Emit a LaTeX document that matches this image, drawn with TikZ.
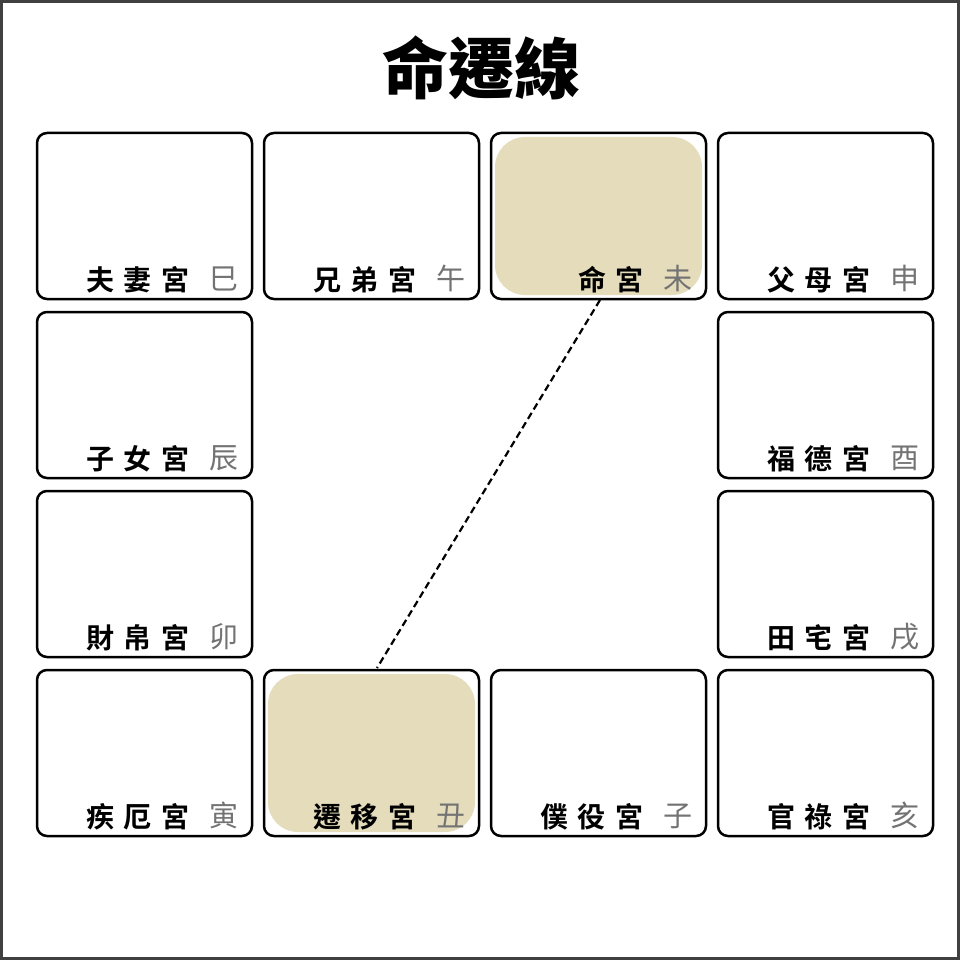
\documentclass[tikz,border=0pt]{standalone}
\usepackage{fontspec}
\newfontfamily\cjk{Noto Sans CJK TC}
\newfontfamily\cjkb{Noto Sans CJK TC Bold}[LetterSpace=35]
\newfontfamily\cjkt{Noto Sans CJK TC Black}
\begin{document}
\begin{tikzpicture}[x=1pt,y=-1pt,
  palace/.style={draw=black,line width=2.5pt,rounded corners=10pt},
  hl/.style={fill=sand,rounded corners=30pt},
  lab/.style={anchor=base east,font=\cjkb\fontsize{28}{28}\selectfont,inner sep=0pt},
  br/.style={anchor=base,font=\cjk\fontsize{29}{29}\selectfont,text=black!55,inner sep=0pt}]
\definecolor{sand}{HTML}{E5DCBC}
\draw[line width=3pt,draw=black!75,fill=white] (1.5,1.5) rectangle (958.5,958.5);
\useasboundingbox (0,0) rectangle (960,960);
\node[font=\cjkt\fontsize{66}{66}\selectfont] (title) at (481,68) {命遷線};
% highlight fills
\fill[hl] (495,137) rectangle (702,295);
\fill[hl] (268,674) rectangle (475,832);
\foreach \nm/\lb/\b/\x/\y in {
 p1/夫妻宮/巳/37/133, p2/兄弟宮/午/264/133, p3/命宮/未/491/133, p4/父母宮/申/718/133,
 p5/子女宮/辰/37/312, p6/福德宮/酉/718/312,
 p7/財帛宮/卯/37/491, p8/田宅宮/戌/718/491,
 p9/疾厄宮/寅/37/670, p10/遷移宮/丑/264/670, p11/僕役宮/子/491/670, p12/官祿宮/亥/718/670}{
  \draw[palace] (\x,\y) rectangle ++(215,166);
  \node[lab] (\nm) at (\x+153,\y+157) {\lb};
  \node[br] (\nm b) at (\x+187,\y+156) {\b};
}
\coordinate (a) at (600,300);
\coordinate (b) at (377,668);
\draw[line width=2.2pt,dash pattern=on 7pt off 4pt] (a) -- (b);
\end{tikzpicture}
\end{document}
